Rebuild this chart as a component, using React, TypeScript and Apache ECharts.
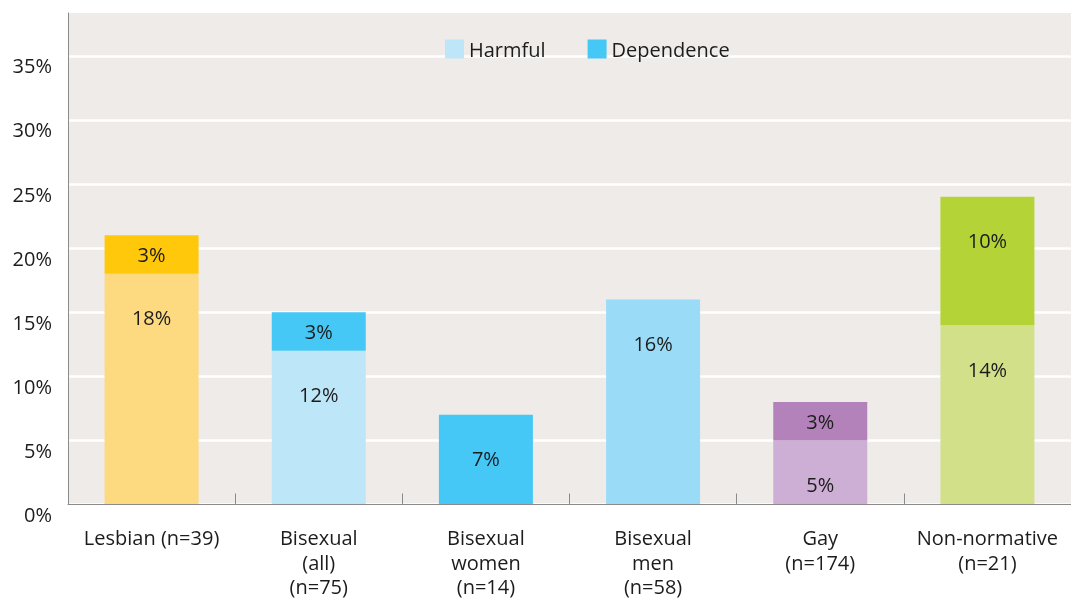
import React, { useEffect, useRef } from "react";
import * as echarts from "echarts";

const categories = [
  "Lesbian (n=39)",
  "Bisexual\n(all)\n(n=75)",
  "Bisexual\nwomen\n(n=14)",
  "Bisexual\nmen\n(n=58)",
  "Gay\n(n=174)",
  "Non-normative\n(n=21)",
];
const harmful: (number | null)[] = [18, 12, null, 16, 5, 14];
const dependence: (number | null)[] = [3, 3, 7, null, 3, 10];
const harmfulColors = ["#fdda7f", "#bde6f8", "#bde6f8", "#9adcf8", "#cdafd5", "#d3e08a"];
const dependenceColors = ["#ffc80a", "#45c8f5", "#45c8f5", "#45c8f5", "#b382ba", "#b4d337"];
const yMax = 38.34;
const yInterval = 5;
const yLabelMax = 35;

const FONT = "'Open Sans', 'Noto Sans', sans-serif";
const TEXT = "#1c1c1c";
const FS = 20;

function buildData(values: (number | null)[], colors: string[]) {
  return values.map((v, i) => {
    if (v === null) return { value: null };
    const small = v < 5;
    return {
      value: v,
      itemStyle: { color: colors[i] },
      label: small
        ? { position: "inside" }
        : { position: "insideTop", distance: 34 },
    };
  });
}

export default function App() {
  const ref = useRef<HTMLDivElement>(null);
  useEffect(() => {
    if (!ref.current) return;
    const chart = echarts.init(ref.current, null, { renderer: "svg" });
    const labelCfg = {
      show: true,
      formatter: "{c}%",
      color: TEXT,
      fontSize: FS,
      fontFamily: FONT,
    };
    chart.setOption({
      animation: false,
      textStyle: { fontFamily: FONT },
      legend: {
        top: 34,
        left: 440,
        itemWidth: 19,
        itemHeight: 19,
        itemGap: 42,
        icon: "rect",
        textStyle: { fontSize: FS, color: TEXT, fontFamily: FONT },
        data: ["Harmful", "Dependence"],
      },
      grid: {
        left: 68,
        right: 0,
        top: 13,
        bottom: 92,
        show: true,
        backgroundColor: "#efebe8",
        borderWidth: 0,
      },
      xAxis: {
        type: "category",
        data: categories,
        axisLine: { lineStyle: { color: "#8a8a8a", width: 1 } },
        axisTick: { show: true, inside: true, length: 11, lineStyle: { color: "#8a8a8a" } },
        axisLabel: {
          interval: 0,
          margin: 21,
          fontSize: FS,
          lineHeight: 24.5,
          color: TEXT,
          fontFamily: FONT,
        },
        z: 5,
      },
      yAxis: {
        type: "value",
        min: 0,
        max: yMax,
        interval: yInterval,
        axisLine: { show: true, lineStyle: { color: "#8a8a8a", width: 1 } },
        axisTick: { show: false },
        splitLine: {
          show: true,
          showMaxLine: false,
          lineStyle: { color: "#ffffff", width: 2.5 },
        },
        axisLabel: {
          margin: 16,
          fontSize: FS,
          color: TEXT,
          fontFamily: FONT,
          verticalAlign: "top",
          formatter: (v: number) => (v <= yLabelMax && v % yInterval === 0 ? `${v}%` : ""),
        },
      },
      series: [
        {
          name: "Harmful",
          type: "bar",
          stack: "total",
          barWidth: 94,
          itemStyle: { color: "#bde6f8" },
          label: labelCfg,
          data: buildData(harmful, harmfulColors),
        },
        {
          name: "Dependence",
          type: "bar",
          stack: "total",
          barWidth: 94,
          itemStyle: { color: "#45c8f5" },
          label: labelCfg,
          data: buildData(dependence, dependenceColors),
        },
      ],
    });
    return () => chart.dispose();
  }, []);
  return (
    <div
      ref={ref}
      style={{ position: "fixed", left: 0, top: 0, width: 1071, height: 599 }}
    />
  );
}
